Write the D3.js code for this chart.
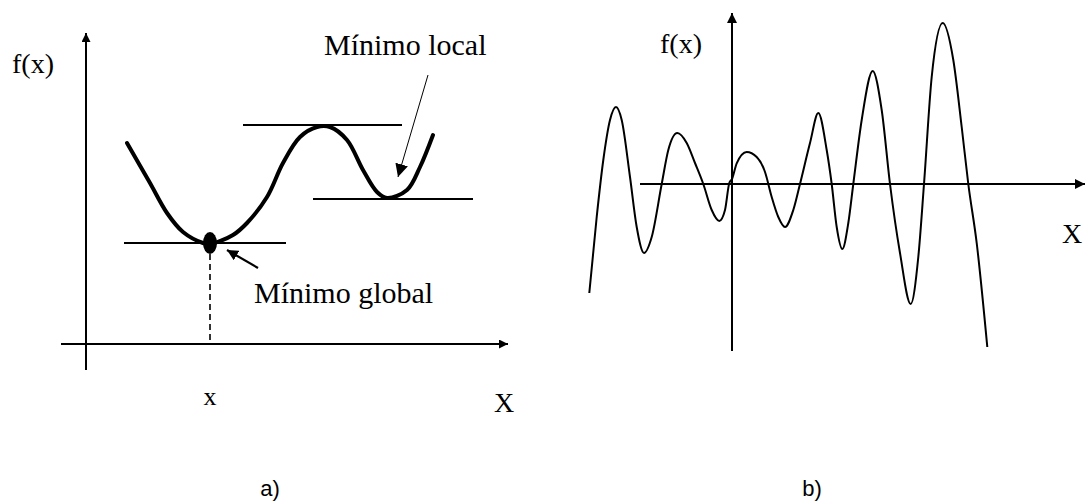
<!DOCTYPE html>
<html lang="es">
<head>
<meta charset="utf-8">
<script src="https://cdn.jsdelivr.net/npm/d3@7"></script>
<style>
  html, body { margin: 0; padding: 0; background: #fff; }
  svg { display: block; }
</style>
</head>
<body>
<script>
// ---------- DATA ----------
// Panel a): a function with one global and one local minimum
const curveAX = [1.025, 1.6, 2.025, 2.425, 2.925, 3.1, 3.675, 4.025, 4.525, 4.925, 5.35, 5.775, 6.1, 6.525, 6.925, 7.275, 7.525, 8.025, 8.35, 8.675];
const curveAY = [10.05, 8.05, 6.55, 5.6, 5.05, 5.0, 5.45, 6.05, 7.35, 9.05, 10.35, 10.85, 10.85, 10.2, 8.7, 7.6, 7.3, 7.7, 8.85, 10.45];
// horizontal tangent lines
const levelNames = ["global", "peak", "local"];
const levelX0 = [0.95, 3.925, 5.675];
const levelX1 = [5.0, 7.9, 9.675];
const levelY = [5.05, 10.95, 7.25];
const globalMin = [3.1, 5.05];

// Panel b): a highly multimodal function
const curveBX = [-7.135, -6.765, -6.435, -6.1, -5.8, -5.515, -5.1, -4.765, -4.4, -4.015, -3.515, -3.185, -2.735, -2.265, -1.85, -1.435, -1.015, -0.635, -0.35, -0.135, 0.0, 0.235, 0.735, 1.235, 1.65, 1.985, 2.315, 2.65, 3.065, 3.4, 3.9, 4.315, 4.735, 4.985, 5.235, 5.515, 5.815, 6.065, 6.485, 7.035, 7.485, 7.9, 8.4, 8.935, 9.315, 9.6, 9.985, 10.535, 11.065, 11.485, 11.815, 12.235, 12.765];
const curveBY = [-5.45, -1.65, 1.2, 3.2, 3.85, 3.2, 0.35, -2.15, -3.45, -2.65, 0, 1.7, 2.55, 2.05, 1.05, 0, -1.3, -1.85, -1.3, 0.05, 0.25, 1.03, 1.6, 1.35, 0.6, -0.65, -1.65, -2.15, -1.3, 0, 2.05, 3.55, 1.7, 0, -2.15, -3.25, -1.95, 0, 3.2, 5.65, 3.7, 0, -3.45, -6.0, -3.65, 0, 5.35, 8.05, 6.2, 2.85, 0, -2.95, -8.15];

const SERIF = "'Liberation Serif', 'Times New Roman', Times, serif";
const SANS = "'Liberation Sans', Arial, Helvetica, sans-serif";

// ---------- SVG ----------
const W = 1085, H = 501;
const svg = d3.select("body").append("svg").attr("width", W).attr("height", H);

const defs = svg.append("defs");
function marker(id, size) {
  defs.append("marker")
    .attr("id", id)
    .attr("viewBox", "0 0 10 10")
    .attr("refX", 10).attr("refY", 5)
    .attr("markerWidth", size).attr("markerHeight", size)
    .attr("markerUnits", "userSpaceOnUse")
    .attr("orient", "auto")
    .append("path").attr("d", "M0,0 L10,5 L0,10 Z").attr("fill", "#000");
}
marker("arrAxis", 9);
marker("arrAxisB", 10);
marker("arrBig", 13);
marker("arrMid", 11);

function label(g, x, y, size, str, family, anchor) {
  return g.append("text").attr("x", x).attr("y", y)
    .attr("font-family", family).attr("font-size", size)
    .attr("fill", "#000").attr("text-anchor", anchor || "start").text(str);
}
// label written in consecutive chunks, so each chunk is shaped on its own
function chunkLabel(g, x, y, size, chunks, family) {
  let cx = x;
  chunks.forEach(c => {
    const t = label(g, cx, y, size, c, family);
    cx += t.node().getComputedTextLength();
  });
}

// ---------- PANEL A ----------
const xA = d3.scaleLinear().domain([0, 10]).range([86, 486]);
const yA = d3.scaleLinear().domain([0, 15]).range([344, 44]);
const gA = svg.append("g");

gA.append("line").attr("x1", xA(0)).attr("x2", xA(0)).attr("y1", yA(-1.3)).attr("y2", yA(15.55))
  .attr("stroke", "#000").attr("stroke-width", 2).attr("marker-end", "url(#arrAxis)");
gA.append("line").attr("x1", xA(-0.625)).attr("x2", xA(10.55)).attr("y1", yA(0)).attr("y2", yA(0))
  .attr("stroke", "#000").attr("stroke-width", 2).attr("marker-end", "url(#arrAxis)");

gA.selectAll("line.level").data(levelNames).join("line").attr("class", "level")
  .attr("x1", (d, i) => xA(levelX0[i])).attr("x2", (d, i) => xA(levelX1[i]))
  .attr("y1", (d, i) => yA(levelY[i])).attr("y2", (d, i) => yA(levelY[i]))
  .attr("stroke", "#000").attr("stroke-width", 1.8);

const ptsA = curveAX.map((x, i) => [x, curveAY[i]]);
gA.append("path").datum(ptsA)
  .attr("d", d3.line().x(d => xA(d[0])).y(d => yA(d[1])).curve(d3.curveCatmullRom.alpha(0.5)))
  .attr("fill", "none").attr("stroke", "#000").attr("stroke-width", 4).attr("stroke-linecap", "round");

gA.append("line").attr("x1", xA(globalMin[0])).attr("x2", xA(globalMin[0]))
  .attr("y1", yA(globalMin[1]) + 11).attr("y2", yA(0))
  .attr("stroke", "#000").attr("stroke-width", 1.6).attr("stroke-dasharray", "6,4");

gA.append("ellipse").attr("cx", xA(globalMin[0])).attr("cy", yA(globalMin[1]))
  .attr("rx", 7).attr("ry", 11).attr("fill", "#000");

gA.append("line").attr("x1", 258).attr("y1", 268).attr("x2", 227).attr("y2", 250)
  .attr("stroke", "#000").attr("stroke-width", 2.2).attr("marker-end", "url(#arrMid)");
gA.append("line").attr("x1", 428).attr("y1", 75).attr("x2", 398).attr("y2", 177)
  .attr("stroke", "#000").attr("stroke-width", 1).attr("marker-end", "url(#arrBig)");

label(gA, 12, 73, 28, "f(x)", SERIF);
chunkLabel(gA, 324, 55, 30, ["M", "\u00ED", "nimo local"], SERIF);
chunkLabel(gA, 254, 303, 30, ["M", "\u00ED", "nimo global"], SERIF);
label(gA, xA(globalMin[0]), 405, 26, "x", SERIF, "middle");
label(gA, 494, 412, 28, "X", SERIF);
label(gA, 270, 496, 22, "a)", SANS, "middle");

// ---------- PANEL B ----------
const xB = d3.scaleLinear().domain([0, 1]).range([732, 752]);
const yB = d3.scaleLinear().domain([0, 1]).range([184, 164]);
const gB = svg.append("g");

gB.append("line").attr("x1", xB(0)).attr("x2", xB(0)).attr("y1", yB(-8.35)).attr("y2", yB(8.55))
  .attr("stroke", "#000").attr("stroke-width", 2).attr("marker-end", "url(#arrAxisB)");
gB.append("line").attr("x1", xB(-4.6)).attr("x2", xB(17.65)).attr("y1", yB(0)).attr("y2", yB(0))
  .attr("stroke", "#000").attr("stroke-width", 2).attr("marker-end", "url(#arrAxisB)");

const ptsB = curveBX.map((x, i) => [x, curveBY[i]]);
gB.append("path").datum(ptsB)
  .attr("d", d3.line().x(d => xB(d[0])).y(d => yB(d[1])).curve(d3.curveMonotoneX))
  .attr("fill", "none").attr("stroke", "#000").attr("stroke-width", 2);

label(gB, 660, 53, 28, "f(x)", SERIF);
label(gB, 1062, 243, 28, "X", SERIF);
label(gB, 812, 496, 22, "b)", SANS, "middle");
</script>
</body>
</html>
